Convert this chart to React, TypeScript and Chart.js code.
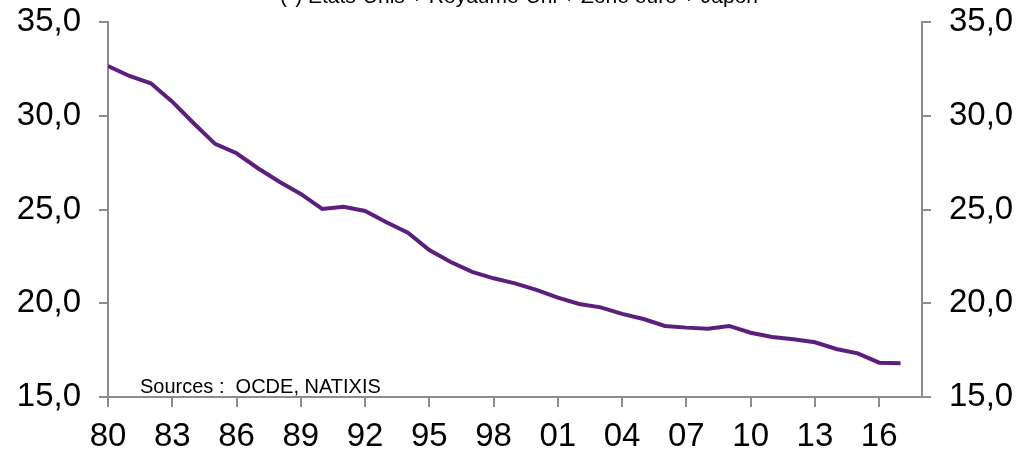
import React, { useEffect, useRef } from "react";
import { Chart, registerables } from "chart.js";

Chart.register(...registerables);

const years = [
  1980, 1981, 1982, 1983, 1984, 1985, 1986, 1987, 1988, 1989,
  1990, 1991, 1992, 1993, 1994, 1995, 1996, 1997, 1998, 1999,
  2000, 2001, 2002, 2003, 2004, 2005, 2006, 2007, 2008, 2009,
  2010, 2011, 2012, 2013, 2014, 2015, 2016, 2017,
];
const values = [
  32.65, 32.12, 31.73, 30.75, 29.6, 28.5, 28.0, 27.2, 26.48, 25.83,
  25.03, 25.15, 24.92, 24.32, 23.76, 22.84, 22.2, 21.67, 21.33, 21.06,
  20.71, 20.3, 19.96, 19.78, 19.43, 19.16, 18.79, 18.7, 18.64, 18.79,
  18.43, 18.2, 18.08, 17.92, 17.56, 17.33, 16.83, 16.8,
];
const xTickYears = [1980, 1983, 1986, 1989, 1992, 1995, 1998, 2001, 2004, 2007, 2010, 2013, 2016];
const yTicks = [15, 20, 25, 30, 35];
const titleText = "(*) Etats-Unis + Royaume-Uni + Zone euro + Japon";
const sourceText = "Sources :  OCDE, NATIXIS";

const FONT = "'Liberation Sans', Arial, sans-serif";
const AXIS = "#8c8c8c";

export default function App() {
  const ref = useRef<HTMLCanvasElement | null>(null);
  useEffect(() => {
    document.body.style.margin = "0";
    if (!ref.current) return;
    const textPlugin = {
      id: "texts",
      afterDraw(chart: any) {
        const ctx = chart.ctx;
        ctx.save();
        ctx.fillStyle = "#000";
        ctx.font = `21px ${FONT}`;
        ctx.textAlign = "center";
        ctx.textBaseline = "alphabetic";
        ctx.fillText(titleText, 519, 3);
        ctx.font = `20px ${FONT}`;
        ctx.textAlign = "left";
        ctx.fillText(sourceText, 140, 393);
        ctx.restore();
      },
    };
    const yAxis = (position: "left" | "right", w: number) => ({
      type: "linear" as const,
      position,
      min: 15,
      max: 35,
      afterBuildTicks: (s: any) => {
        s.ticks = yTicks.map((v) => ({ value: v }));
      },
      afterFit: (s: any) => {
        s.width = w;
        s.paddingTop = 0;
        s.paddingBottom = 0;
      },
      ticks: {
        color: "#000",
        font: { family: FONT, size: 33 },
        padding: 18,
        callback: (v: any) => Number(v).toFixed(1).replace(".", ","),
      },
      grid: {
        drawOnChartArea: false,
        drawTicks: true,
        tickLength: 9,
        color: AXIS,
        lineWidth: 2,
      },
      border: { color: AXIS, width: 2 },
    });
    const chart = new Chart(ref.current, {
      type: "line",
      data: {
        datasets: [
          {
            data: years.map((y, i) => ({ x: y, y: values[i] })),
            borderColor: "#5c1f7e",
            borderWidth: 4,
            pointRadius: 0,
            tension: 0,
            fill: false,
          },
        ],
      },
      options: {
        animation: false,
        responsive: false,
        maintainAspectRatio: false,
        layout: { padding: { top: 22, left: 0, right: 0, bottom: 0 } },
        plugins: { legend: { display: false }, tooltip: { enabled: false }, title: { display: false } },
        scales: {
          x: {
            type: "linear",
            min: 1980,
            max: 2018,
            afterBuildTicks: (s: any) => {
              s.ticks = xTickYears.map((v) => ({ value: v }));
            },
            afterFit: (s: any) => {
              s.height = 56;
              s.paddingLeft = 0;
              s.paddingRight = 0;
            },
            ticks: {
              color: "#000",
              font: { family: FONT, size: 33 },
              padding: 10,
              maxRotation: 0,
              autoSkip: false,
              callback: (v: any) => String(Number(v) % 100).padStart(2, "0"),
            },
            grid: {
              drawOnChartArea: false,
              drawTicks: true,
              tickLength: 10,
              color: AXIS,
              lineWidth: 2,
            },
            border: { color: AXIS, width: 2 },
          },
          y: yAxis("left", 108),
          y2: yAxis("right", 100),
        },
      },
      plugins: [textPlugin],
    });
    return () => chart.destroy();
  }, []);
  return (
    <div style={{ width: 1022, height: 453 }}>
      <canvas ref={ref} width={1022} height={453} style={{ display: "block" }} />
    </div>
  );
}
